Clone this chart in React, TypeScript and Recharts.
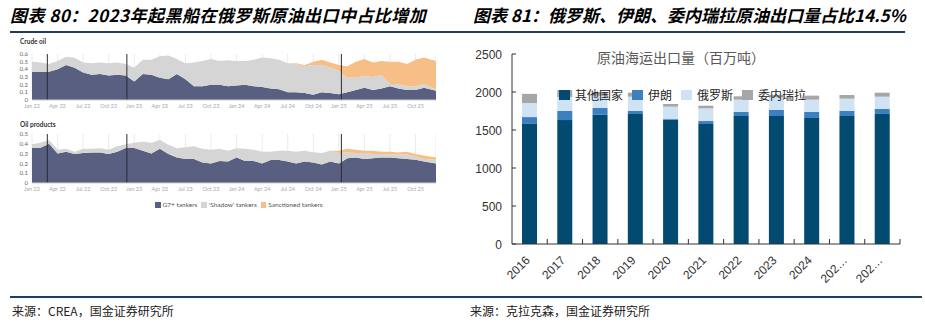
import React from 'react';
import { AreaChart, Area, XAxis, YAxis, CartesianGrid, ReferenceLine, BarChart, Bar, Legend } from 'recharts';

// ---------- Left panel (CREA) ----------
const monthIdx = [0,1,2,3,4,5,6,7,8,9,10,11,12,13,14,15,16,17,18,19,20,21,22,23,24,25,26,27,28,29,30,31,32,33,34,35,36,37,38,39,40,41,42,43,44,45,46,47.4];
const tickMonths = [0,3,6,9,12,15,18,21,24,27,30,33,36,39,42,45];
const tickLabels = ['Jan 22','Apr 22','Jul 22','Oct 22','Jan 23','Apr 23','Jul 23','Oct 23','Jan 24','Apr 24','Jul 24','Oct 24','Jan 25','Apr 25','Jul 25','Oct 25'];
const eventMonths = [1.8, 11.13, 36.3];

const crudeG7 = [0.37,0.37,0.37,0.40,0.455,0.42,0.36,0.33,0.34,0.32,0.33,0.32,
  0.24,0.34,0.33,0.29,0.27,0.34,0.27,0.18,0.18,0.20,0.20,0.18,
  0.19,0.20,0.18,0.17,0.15,0.14,0.10,0.10,0.09,0.07,0.10,0.09,
  0.075,0.10,0.13,0.16,0.13,0.15,0.18,0.15,0.13,0.13,0.16,0.12];
const crudeShadow = [0.13,0.12,0.10,0.11,0.11,0.13,0.13,0.15,0.15,0.16,0.16,0.15,
  0.18,0.185,0.195,0.28,0.31,0.195,0.21,0.31,0.33,0.335,0.31,0.34,
  0.32,0.31,0.345,0.385,0.395,0.385,0.38,0.37,0.35,0.385,0.355,0.335,
  0.305,0.19,0.16,0.155,0.17,0.175,0.03,0.06,0.05,0.05,0.05,0.02];
const crudeSanctioned = [0,0,0,0,0,0,0,0,0,0,0,0,
  0,0,0,0,0,0,0,0,0,0,0,0,
  0,0,0,0,0,0,0,0.01,0.015,0.045,0.07,0.065,
  0.075,0.15,0.21,0.22,0.19,0.185,0.29,0.29,0.29,0.345,0.345,0.37];

const prodG7 = [0.356,0.36,0.40,0.30,0.32,0.295,0.305,0.31,0.31,0.295,0.32,0.356,
  0.356,0.33,0.30,0.35,0.295,0.26,0.245,0.245,0.21,0.20,0.225,0.22,
  0.26,0.225,0.225,0.20,0.235,0.235,0.22,0.20,0.22,0.21,0.19,0.22,
  0.20,0.253,0.26,0.245,0.253,0.26,0.26,0.253,0.245,0.236,0.22,0.20];
const prodShadow = [0.04,0.05,0.04,0.04,0.03,0.025,0.045,0.04,0.045,0.045,0.055,0.04,
  0.055,0.09,0.11,0.09,0.095,0.095,0.12,0.13,0.14,0.14,0.125,0.11,
  0.095,0.125,0.115,0.12,0.085,0.095,0.11,0.12,0.11,0.105,0.115,0.11,
  0.105,0.057,0.045,0.06,0.042,0.035,0.03,0.037,0.045,0.034,0.025,0.036];
const prodSanctioned = [0,0,0,0,0,0,0,0,0,0,0,0,
  0,0,0,0,0,0,0,0,0,0,0,0,
  0,0,0,0,0,0,0,0,0,0,0,0,
  0.025,0.04,0.035,0.025,0.035,0.025,0.03,0.02,0.03,0.025,0.035,0.024];

const leftSeries = ['G7+ tankers', "'Shadow' tankers", 'Sanctioned tankers'];
const leftColors = ['#585f80', '#d5d5d5', '#f7bf86'];

// ---------- Right panel (Clarksons) ----------
const years = ['2016','2017','2018','2019','2020','2021','2022','2023','2024','202…','202…'];
const otherCountries = [1580,1630,1700,1710,1636,1579,1684,1684,1658,1684,1711];
const iran = [90,120,90,40,13,39,53,79,79,66,65];
const russia = [185,185,160,188,158,167,162,167,162,162,162];
const venezuela = [120,90,50,53,35,35,44,30,53,48,53];
const rightSeries = ['其他国家', '伊朗', '俄罗斯', '委内瑞拉'];
const rightColors = ['#034a70', '#3d7fbf', '#cfe3f4', '#a6a6a6'];
const yTicksRight = [0,500,1000,1500,2000,2500];

const crudeData = monthIdx.map((m, i) => ({ m, g7: crudeG7[i], shadow: crudeShadow[i], sanc: crudeSanctioned[i] }));
const prodData = monthIdx.map((m, i) => ({ m, g7: prodG7[i], shadow: prodShadow[i], sanc: prodSanctioned[i] }));
const barData = years.map((y, i) => ({ year: y, other: otherCountries[i], iran: iran[i], russia: russia[i], venez: venezuela[i] }));

const LEFT_FONT = 'Lato, "Open Sans", sans-serif';
const CJK = '"Noto Sans CJK SC", sans-serif';
const ARIAL = '"Liberation Sans", Arial, sans-serif';

function SmallArea({ data, width, height, yMax, yTicks }: any) {
  return (
    <AreaChart width={width} height={height} data={data} margin={{ top: 4, right: 0, bottom: 0, left: 0 }}>
      <CartesianGrid vertical={true} horizontal={false} stroke="#ebebeb" />
      <XAxis dataKey="m" type="number" domain={[0, 47.4]} ticks={tickMonths} allowDataOverflow
        tickFormatter={(v: number) => tickLabels[tickMonths.indexOf(v)]}
        height={12} tickSize={0} tickMargin={4} axisLine={{ stroke: '#cfcfcf' }} tickLine={false}
        tick={{ fontSize: 5.5, fill: '#a8a8a8', fontFamily: LEFT_FONT }} interval={0} />
      <YAxis type="number" domain={[0, yMax]} ticks={yTicks} width={22} tickSize={0} tickMargin={4}
        axisLine={false} tickLine={false} tick={{ fontSize: 6, fill: '#666', fontFamily: LEFT_FONT }} interval={0} />
      <Area type="linear" dataKey="g7" stackId="a" stroke="none" fill={leftColors[0]} fillOpacity={1} isAnimationActive={false} dot={false} activeDot={false} />
      <Area type="linear" dataKey="shadow" stackId="a" stroke="none" fill={leftColors[1]} fillOpacity={1} isAnimationActive={false} dot={false} activeDot={false} />
      <Area type="linear" dataKey="sanc" stackId="a" stroke="none" fill={leftColors[2]} fillOpacity={1} isAnimationActive={false} dot={false} activeDot={false} />
      {eventMonths.map((e) => (
        <ReferenceLine key={e} x={e} stroke="#2d2d2d" strokeWidth={1} />
      ))}
    </AreaChart>
  );
}

const BAND = 388 / 11;

function YearTick(props: any) {
  const { x, y, payload } = props;
  return (
    <g>
      <line x1={x + BAND / 2} x2={x + BAND / 2} y1={y} y2={y - 5} stroke="#333" />
      <text transform={`translate(${x + 1},${y + 17}) rotate(-45)`} textAnchor="end" fontSize={12} fill="#333" fontFamily={ARIAL}>
        {payload.value}
      </text>
    </g>
  );
}

function ValueTick(props: any) {
  const { x, y, payload } = props;
  return (
    <g>
      <line x1={x} x2={x + 4} y1={y} y2={y} stroke="#333" />
      <text x={x - 10} y={y + 4.5} textAnchor="end" fontSize={12} fill="#333" fontFamily={ARIAL}>
        {payload.value}
      </text>
    </g>
  );
}

function RightLegend() {
  return (
    <div style={{ display: 'flex', alignItems: 'center', fontFamily: CJK, fontSize: 12, color: '#262626', whiteSpace: 'nowrap' }}>
      {rightSeries.map((s, i) => (
        <div key={s} style={{ display: 'flex', alignItems: 'center', marginRight: 9 }}>
          <span style={{ display: 'inline-block', width: 11, height: 10, background: rightColors[i], marginRight: 5 }} />
          <span>{s}</span>
        </div>
      ))}
    </div>
  );
}

export default function App() {
  return (
    <div style={{ position: 'absolute', left: 0, top: 0, width: 925, height: 322, background: '#fff', overflow: 'hidden' }}>
      {/* Headers */}
      <div style={{ position: 'absolute', left: 10, top: 5, fontSize: 17, lineHeight: '20px', letterSpacing: 0.45, fontWeight: 700, fontStyle: 'italic', fontFamily: CJK, color: '#000', whiteSpace: 'nowrap' }}>
        图表 80：2023年起黑船在俄罗斯原油出口中占比增加
      </div>
      <div style={{ position: 'absolute', left: 473, top: 5, fontSize: 17, lineHeight: '20px', fontWeight: 700, fontStyle: 'italic', fontFamily: CJK, color: '#000', whiteSpace: 'nowrap' }}>
        图表 81：俄罗斯、伊朗、委内瑞拉原油出口量占比14.5%
      </div>
      <div style={{ position: 'absolute', left: 10, top: 31, width: 895, height: 1.5, background: '#1d3e5f' }} />

      {/* Left panel */}
      <div style={{ position: 'absolute', left: 20, top: 38, fontSize: 6.5, lineHeight: '8px', fontWeight: 700, fontFamily: LEFT_FONT, color: '#333' }}>Crude oil</div>
      <div style={{ position: 'absolute', left: 10, top: 50 }}>
        <SmallArea data={crudeData} width={426} height={62} yMax={0.6} yTicks={[0, 0.1, 0.2, 0.3, 0.4, 0.5, 0.6]} />
      </div>
      <div style={{ position: 'absolute', left: 20, top: 121, fontSize: 6.5, lineHeight: '8px', fontWeight: 700, fontFamily: LEFT_FONT, color: '#333' }}>Oil products</div>
      <div style={{ position: 'absolute', left: 10, top: 130 }}>
        <SmallArea data={prodData} width={426} height={65} yMax={0.5} yTicks={[0, 0.1, 0.2, 0.3, 0.4, 0.5]} />
      </div>
      <div style={{ position: 'absolute', left: 155, top: 201, display: 'flex', alignItems: 'center', fontFamily: LEFT_FONT, fontSize: 6.5, lineHeight: '8px', color: '#555', whiteSpace: 'nowrap' }}>
        {leftSeries.map((s, i) => (
          <div key={s} style={{ display: 'flex', alignItems: 'center', marginRight: 4 }}>
            <span style={{ display: 'inline-block', width: 5.5, height: 6.5, background: leftColors[i], marginRight: 2 }} />
            <span>{s}</span>
          </div>
        ))}
      </div>

      {/* Right panel */}
      <div style={{ position: 'absolute', left: 597, top: 48, fontSize: 14, lineHeight: '18px', fontFamily: CJK, color: '#595959', whiteSpace: 'nowrap' }}>
        原油海运出口量（百万吨）
      </div>
      <div style={{ position: 'absolute', left: 460, top: 36 }}>
        <BarChart width={450} height={250} data={barData} margin={{ top: 18, right: 10, bottom: 2, left: 0 }} barCategoryGap={0}>
          <XAxis dataKey="year" type="category" height={40} tickSize={0} tickMargin={0} tickLine={false}
            axisLine={{ stroke: '#333' }} tick={<YearTick />} interval={0} />
          <YAxis type="number" domain={[0, 2500]} ticks={yTicksRight} width={52} tickSize={0} tickMargin={0} tickLine={false}
            axisLine={{ stroke: '#333' }} tick={<ValueTick />} interval={0} />
          <Legend layout="horizontal" verticalAlign="middle" align="center"
            wrapperStyle={{ position: 'absolute', top: 50, left: 99, width: 320, height: 14 }}
            content={<RightLegend />} />
          <Bar dataKey="other" name={rightSeries[0]} stackId="s" fill={rightColors[0]} barSize={15} isAnimationActive={false} />
          <Bar dataKey="iran" name={rightSeries[1]} stackId="s" fill={rightColors[1]} barSize={15} isAnimationActive={false} />
          <Bar dataKey="russia" name={rightSeries[2]} stackId="s" fill={rightColors[2]} barSize={15} isAnimationActive={false} />
          <Bar dataKey="venez" name={rightSeries[3]} stackId="s" fill={rightColors[3]} barSize={15} isAnimationActive={false} />
        </BarChart>
      </div>

      {/* Footer */}
      <div style={{ position: 'absolute', left: 10, top: 296, width: 912, height: 1.5, background: '#1d3e5f' }} />
      <div style={{ position: 'absolute', left: 12, top: 304, fontSize: 12, lineHeight: '14px', fontFamily: CJK, color: '#222', whiteSpace: 'nowrap' }}>
        来源：CREA，国金证券研究所
      </div>
      <div style={{ position: 'absolute', left: 470, top: 304, fontSize: 12, lineHeight: '14px', fontFamily: CJK, color: '#222', whiteSpace: 'nowrap' }}>
        来源：克拉克森，国金证券研究所
      </div>
    </div>
  );
}
